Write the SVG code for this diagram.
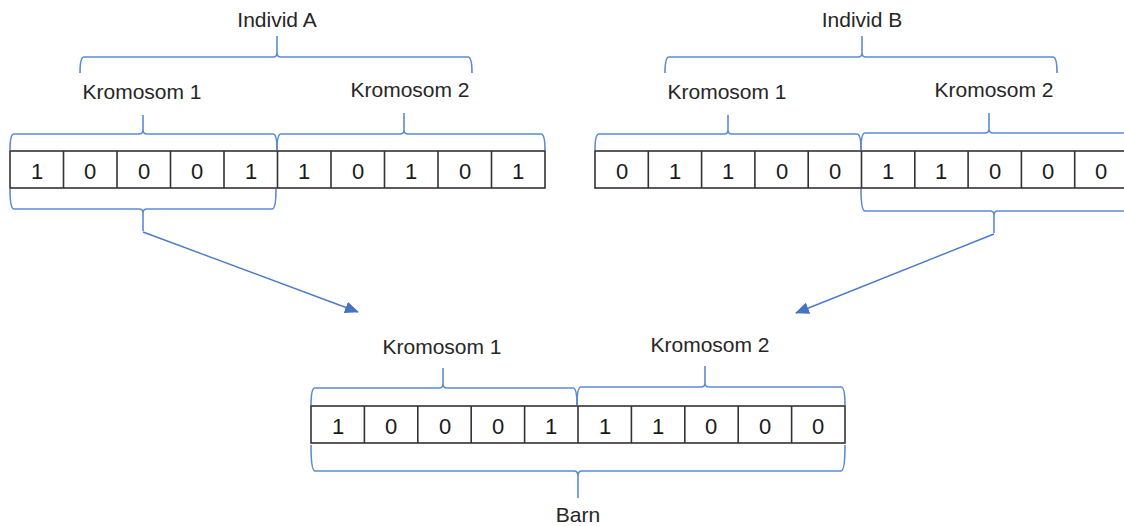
<svg xmlns="http://www.w3.org/2000/svg" width="1124" height="526" viewBox="0 0 1124 526">
<defs>
<style>
.t{font-family:"Liberation Sans",Arial,sans-serif;font-size:21px;fill:#262626;text-anchor:middle}
.d{font-family:"Liberation Sans",Arial,sans-serif;font-size:22px;fill:#1a1a1a;text-anchor:middle}
.cell{fill:#fff;stroke:#333;stroke-width:1.6}
.br{fill:none;stroke:#5B8BD6;stroke-width:1.6;stroke-linejoin:round}
.ar{fill:none;stroke:#4A78CC;stroke-width:1.4}
</style>
<marker id="ah" viewBox="0 0 14 12" refX="13" refY="6" markerWidth="14" markerHeight="12" markerUnits="userSpaceOnUse" orient="auto">
<path d="M0,0 L14,6 L0,12 z" fill="#4472C4"/>
</marker>
</defs>
<rect width="1124" height="526" fill="#fff"/>

<g id="individA">
<text class="t" x="277" y="27">Individ A</text>
<path class="br" d="M80,73 Q80,57 84,57 L273,57 Q277,57 277,53 L277,36 M277,53 Q277,57 281,57 L468,57 Q472,57 472,73"/>
<text class="t" x="142" y="99">Kromosom 1</text>
<text class="t" x="410" y="97">Kromosom 2</text>
<path class="br" d="M10,150 Q10,134 14,134 L139,134 Q143,134 143,130 L143,115 M143,130 Q143,134 147,134 L273,134 Q277,134 277,150"/>
<path class="br" d="M277,150 Q277,134 281,134 L400,134 Q404,134 404,130 L404,113 M404,130 Q404,134 408,134 L541,134 Q545,134 545,150"/>
<g id="rowA">
<rect class="cell" x="10" y="151" width="535" height="37"/>
<path class="cell" d="M63.5,151V188M117,151V188M170.5,151V188M224,151V188M277.5,151V188M331,151V188M384.5,151V188M438,151V188M491.5,151V188"/>
<text class="d" x="37" y="179">1</text>
<text class="d" x="90" y="179">0</text>
<text class="d" x="144" y="179">0</text>
<text class="d" x="197" y="179">0</text>
<text class="d" x="251" y="179">1</text>
<text class="d" x="304" y="179">1</text>
<text class="d" x="358" y="179">0</text>
<text class="d" x="411" y="179">1</text>
<text class="d" x="465" y="179">0</text>
<text class="d" x="518" y="179">1</text>
</g>
<path class="br" d="M10,189 Q10,209 14,209 L139,209 Q143,209 143,213 L143,231 M143,213 Q143,209 147,209 L272,209 Q276,209 276,189"/>
</g>

<g id="individB">
<text class="t" x="862" y="27">Individ B</text>
<path class="br" d="M665,73 Q665,57 669,57 L858,57 Q862,57 862,53 L862,36 M862,53 Q862,57 866,57 L1053,57 Q1057,57 1057,73"/>
<text class="t" x="727" y="99">Kromosom 1</text>
<text class="t" x="994" y="97">Kromosom 2</text>
<path class="br" d="M595,150 Q595,134 599,134 L724,134 Q728,134 728,130 L728,115 M728,130 Q728,134 732,134 L857,134 Q861,134 861,150"/>
<path class="br" d="M861,150 Q861,133 865,133 L985,133 Q989,133 989,129 L989,113 M989,129 Q989,133 993,133 L1124,133"/>
<g id="rowB">
<rect class="cell" x="595" y="151" width="533" height="37"/>
<path class="cell" d="M648.3,151V188M701.6,151V188M754.9,151V188M808.2,151V188M861.5,151V188M914.8,151V188M968.1,151V188M1021.4,151V188M1074.7,151V188"/>
<text class="d" x="622" y="179">0</text>
<text class="d" x="675" y="179">1</text>
<text class="d" x="728" y="179">1</text>
<text class="d" x="782" y="179">0</text>
<text class="d" x="835" y="179">0</text>
<text class="d" x="888" y="179">1</text>
<text class="d" x="941" y="179">1</text>
<text class="d" x="995" y="179">0</text>
<text class="d" x="1048" y="179">0</text>
<text class="d" x="1101" y="179">0</text>
</g>
<path class="br" d="M861,189 Q861,211 865,211 L990,211 Q994,211 994,215 L994,233 M994,215 Q994,211 998,211 L1124,211"/>
</g>

<g id="barn">
<text class="t" x="442" y="354">Kromosom 1</text>
<text class="t" x="710" y="352">Kromosom 2</text>
<path class="br" d="M311,405 Q311,388 315,388 L439,388 Q443,388 443,384 L443,368 M443,384 Q443,388 447,388 L573,388 Q577,388 577,405"/>
<path class="br" d="M577,405 Q577,387 581,387 L701,387 Q705,387 705,383 L705,366 M705,383 Q705,387 709,387 L841,387 Q845,387 845,405"/>
<g id="rowC">
<rect class="cell" x="311" y="406" width="534" height="37"/>
<path class="cell" d="M364.4,406V443M417.8,406V443M471.2,406V443M524.6,406V443M578,406V443M631.4,406V443M684.8,406V443M738.2,406V443M791.6,406V443"/>
<text class="d" x="338" y="434">1</text>
<text class="d" x="391" y="434">0</text>
<text class="d" x="445" y="434">0</text>
<text class="d" x="498" y="434">0</text>
<text class="d" x="551" y="434">1</text>
<text class="d" x="605" y="434">1</text>
<text class="d" x="658" y="434">1</text>
<text class="d" x="711" y="434">0</text>
<text class="d" x="765" y="434">0</text>
<text class="d" x="818" y="434">0</text>
</g>
<path class="br" d="M311,445 Q311,471 315,471 L574,471 Q578,471 578,476 L578,498 M578,476 Q578,471 582,471 L841,471 Q845,471 845,445"/>
<text class="t" x="578" y="522">Barn</text>
</g>

<g id="connectors">
<line class="ar" x1="143" y1="232" x2="358" y2="312" marker-end="url(#ah)"/>
<line class="ar" x1="994" y1="234" x2="796" y2="313" marker-end="url(#ah)"/>
</g>
</svg>
